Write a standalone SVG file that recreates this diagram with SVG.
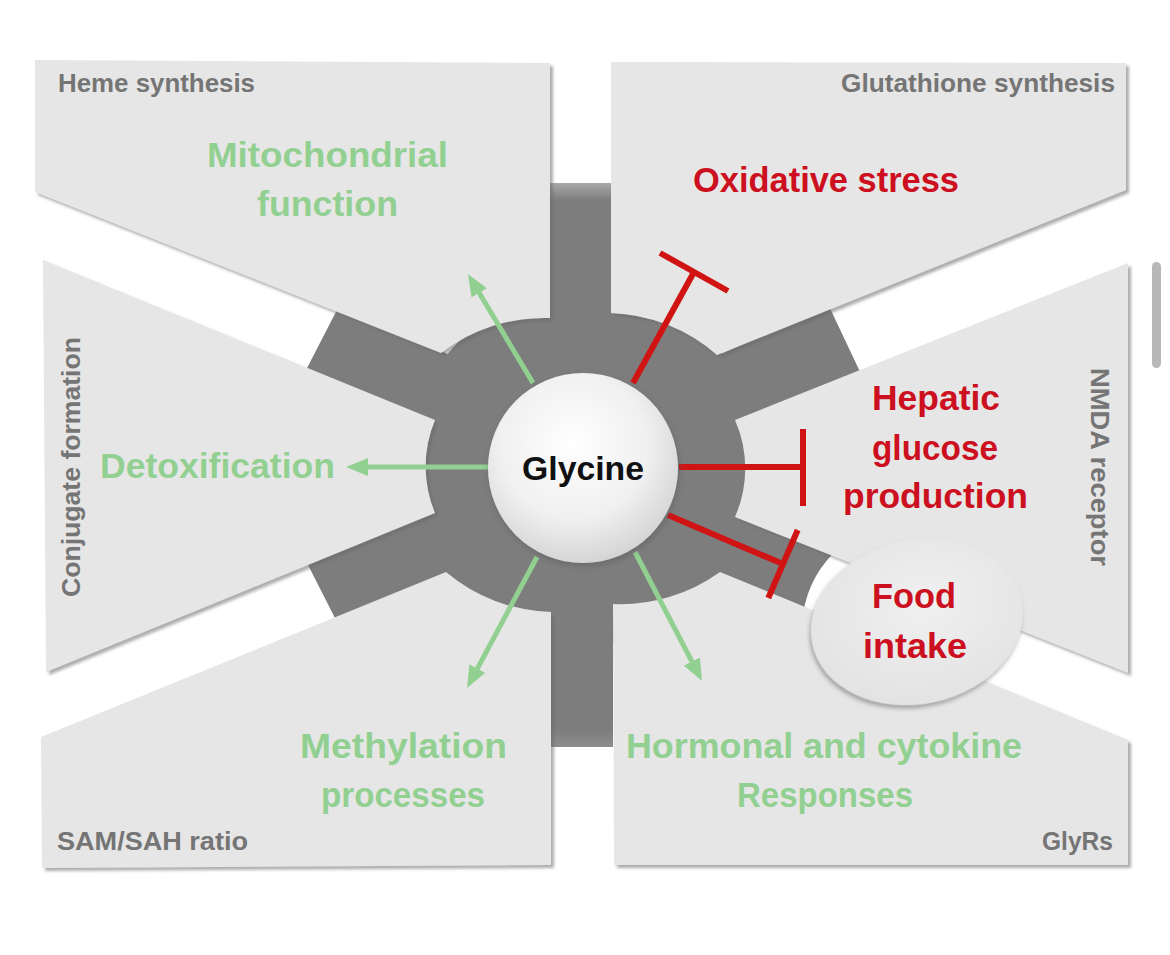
<svg xmlns="http://www.w3.org/2000/svg" width="1170" height="955" viewBox="0 0 1170 955">
<defs>
<style>
.panel{fill:#e6e6e6;filter:url(#psh)}
.lbl{font-family:"Liberation Sans",Arial,sans-serif;font-weight:bold;font-size:25px;fill:#757575}
.g{font-family:"Liberation Sans",Arial,sans-serif;font-weight:bold;font-size:35px;fill:#92d092}
.r{font-family:"Liberation Sans",Arial,sans-serif;font-weight:bold;font-size:35px;fill:#cc1020}
.dark{fill:#7d7d7d}
.ga{stroke:#92d092;stroke-width:5;fill:none;marker-end:url(#ah)}
.rl{stroke:#d01414;stroke-width:6;fill:none}
</style>
<filter id="psh" x="-5%" y="-5%" width="110%" height="112%">
<feDropShadow dx="3" dy="3" stdDeviation="1.5" flood-color="#6a6a6a" flood-opacity="0.55"/>
</filter>
<filter id="csh" x="-20%" y="-20%" width="140%" height="140%">
<feDropShadow dx="1" dy="3" stdDeviation="3" flood-color="#555" flood-opacity="0.5"/>
</filter>
<filter id="esh" x="-20%" y="-20%" width="140%" height="140%">
<feDropShadow dx="-2" dy="3" stdDeviation="2" flood-color="#777" flood-opacity="0.6"/>
</filter>
<radialGradient id="cg" cx="45%" cy="38%" r="65%">
<stop offset="0" stop-color="#ffffff"/>
<stop offset="0.6" stop-color="#f0f0f0"/>
<stop offset="1" stop-color="#d2d2d2"/>
</radialGradient>
<radialGradient id="eg" cx="55%" cy="40%" r="65%">
<stop offset="0" stop-color="#f0f0f0"/>
<stop offset="1" stop-color="#e2e2e2"/>
</radialGradient>
<linearGradient id="tb" x1="0" y1="183" x2="0" y2="200" gradientUnits="userSpaceOnUse">
<stop offset="0" stop-color="#a9a9a9"/>
<stop offset="1" stop-color="#7d7d7d"/>
</linearGradient>
<linearGradient id="bb" x1="0" y1="730" x2="0" y2="748" gradientUnits="userSpaceOnUse">
<stop offset="0" stop-color="#7d7d7d"/>
<stop offset="1" stop-color="#8e8e8e"/>
</linearGradient>
<marker id="ah" markerWidth="22" markerHeight="18" refX="10" refY="9" orient="auto" markerUnits="userSpaceOnUse">
<path d="M0,0 L22,9 L0,18 z" fill="#92d092"/>
</marker>
</defs>
<rect width="1170" height="955" fill="#ffffff"/>
<rect x="1152" y="262" width="9" height="106" rx="4.5" fill="#b8b8b8"/>

<g id="ring">
<circle class="dark" cx="585" cy="467" r="178"/>
<rect x="550" y="183" width="62" height="200" fill="url(#tb)"/>
<rect x="551" y="550" width="62" height="197" fill="url(#bb)"/>
<polygon class="dark" points="340,304 304,374 565,508 605,427"/>
<polygon class="dark" points="305,559 338,624 604,508 566,426"/>
<polygon class="dark" points="828,304 862,376 605,508 565,427"/>
<path class="dark" d="M840,547 A112,112 0 0 0 803,614 L566,508 L604,426 Z"/>
</g>

<g id="heme-panel">
<path class="panel" d="M35,60 L550,63 L550,318 A170,170 0 0 0 441,353 L35,192 Z"/>
<text class="lbl" x="58" y="92" textLength="197" lengthAdjust="spacingAndGlyphs">Heme synthesis</text>
<text class="g" x="207" y="167" textLength="241" lengthAdjust="spacingAndGlyphs">Mitochondrial</text>
<text class="g" x="257" y="216" textLength="141" lengthAdjust="spacingAndGlyphs">function</text>
</g>

<g id="glutathione-panel">
<path class="panel" d="M611,62 L1126,63 L1126,190 L717,355 A170,170 0 0 0 611,313 Z"/>
<text class="lbl" x="841" y="92" textLength="274" lengthAdjust="spacingAndGlyphs">Glutathione synthesis</text>
<text class="r" x="693" y="192" font-size="33" textLength="266" lengthAdjust="spacingAndGlyphs">Oxidative stress</text>
</g>

<g id="conjugate-panel">
<path class="panel" d="M43,260 L435,420 A120,120 0 0 0 435,513 L46,672 Z"/>
<text class="lbl" transform="translate(80,597) rotate(-90)" font-size="26" textLength="260" lengthAdjust="spacingAndGlyphs">Conjugate formation</text>
<text class="g" x="100" y="478" textLength="235" lengthAdjust="spacingAndGlyphs">Detoxification</text>
</g>

<g id="nmda-panel">
<path class="panel" d="M1128,263 L1128,673 L735,517 A120,120 0 0 0 735,420 Z"/>
<text class="lbl" transform="translate(1091,368) rotate(90)" textLength="198" lengthAdjust="spacingAndGlyphs">NMDA receptor</text>
<text class="r" x="872" y="410" textLength="128" lengthAdjust="spacingAndGlyphs">Hepatic</text>
<text class="r" x="872" y="460" textLength="126" lengthAdjust="spacingAndGlyphs">glucose</text>
<text class="r" x="843" y="508" textLength="185" lengthAdjust="spacingAndGlyphs">production</text>
</g>

<g id="sam-panel">
<path class="panel" d="M41,737 L446,572 A170,170 0 0 0 551,612 L551,865 L42,868 Z"/>
<text class="lbl" x="57" y="850" textLength="191" lengthAdjust="spacingAndGlyphs">SAM/SAH ratio</text>
<text class="g" x="300" y="758" textLength="207" lengthAdjust="spacingAndGlyphs">Methylation</text>
<text class="g" x="321" y="807" textLength="164" lengthAdjust="spacingAndGlyphs">processes</text>
</g>

<g id="glyrs-panel">
<path class="panel" d="M613,604 A170,170 0 0 0 720,572 L1128,740 L1128,865 L614,865 Z"/>
<text class="lbl" x="1042" y="850" textLength="71" lengthAdjust="spacingAndGlyphs">GlyRs</text>
<text class="g" x="626" y="758" textLength="396" lengthAdjust="spacingAndGlyphs">Hormonal and cytokine</text>
<text class="g" x="737" y="807" textLength="176" lengthAdjust="spacingAndGlyphs">Responses</text>
</g>

<g id="connectors">
<line class="ga" x1="533" y1="383" x2="474.1" y2="284.3"/>
<line class="ga" x1="489" y1="467" x2="358" y2="467"/>
<line class="ga" x1="537" y1="557" x2="472.7" y2="677.4"/>
<line class="ga" x1="635" y1="552" x2="696.5" y2="670.4"/>
<line class="rl" x1="633" y1="383" x2="694" y2="272"/>
<line class="rl" x1="660" y1="253" x2="728" y2="291"/>
<line class="rl" x1="679" y1="467" x2="803" y2="467"/>
<line class="rl" x1="803" y1="429" x2="803" y2="506"/>
<line class="rl" x1="668" y1="515" x2="783" y2="564"/>
<line class="rl" x1="797.7" y1="530" x2="768.3" y2="598"/>
</g>

<g id="glycine">
<circle cx="583" cy="468" r="95" fill="url(#cg)" filter="url(#csh)"/>
<text x="583" y="480" text-anchor="middle" font-family="Liberation Sans, Arial, sans-serif" font-weight="bold" font-size="34" fill="#111" textLength="122" lengthAdjust="spacingAndGlyphs">Glycine</text>
</g>

<g id="food-intake">
<ellipse cx="917" cy="622" rx="107" ry="82" transform="rotate(-12 917 622)" fill="url(#eg)" filter="url(#esh)"/>
<text class="r" x="872" y="608" textLength="84" lengthAdjust="spacingAndGlyphs">Food</text>
<text class="r" x="863" y="658" textLength="104" lengthAdjust="spacingAndGlyphs">intake</text>
</g>
</svg>
